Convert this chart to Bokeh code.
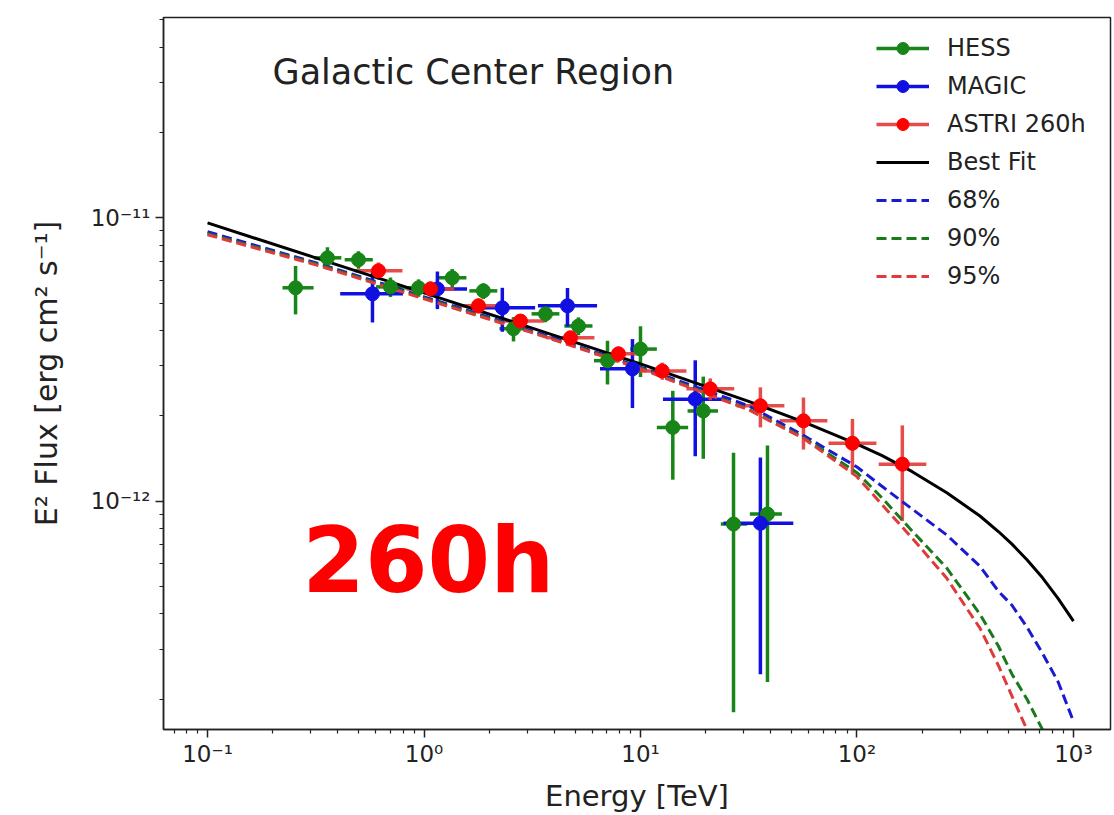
from bokeh.plotting import figure
from bokeh.models import (Range1d, FixedTicker, CustomJSTickFormatter, Legend,
                          LegendItem, Label)
from bokeh.embed import file_html
from bokeh.resources import INLINE

# ---------------- data ----------------
# HESS
hess_e = [0.255, 0.358, 0.498, 0.70, 0.944, 1.35, 1.88, 2.59, 3.64, 5.17,
          7.04, 10.0, 14.1, 19.5, 26.9, 38.6]
hess_f = [5.66e-12, 7.22e-12, 7.11e-12, 5.70e-12, 5.66e-12, 6.14e-12, 5.52e-12,
          4.06e-12, 4.58e-12, 4.15e-12, 3.13e-12, 3.44e-12, 1.82e-12, 2.08e-12,
          8.30e-13, 9.00e-13]
hess_ferr = [1.1e-12, 0.65e-12, 0.5e-12, 0.45e-12, 0.4e-12, 0.45e-12, 0.35e-12,
             0.4e-12, 0.3e-12, 0.3e-12, 0.55e-12, 0.7e-12, 0.63e-12, 0.67e-12,
             0.65e-12, 0.67e-12]
hess_elo = [0.222, 0.31, 0.43, 0.60, 0.81, 1.16, 1.62, 2.23, 3.14, 4.45,
            6.1, 8.97, 11.9, 16.5, 23.5, 32.0]
hess_ehi = [0.309, 0.415, 0.58, 0.81, 1.09, 1.57, 2.18, 3.0, 4.22, 6.0,
            8.0, 11.9, 16.6, 22.8, 31.1, 45.0]

# MAGIC
magic_e = [0.578, 1.153, 2.30, 4.60, 9.18, 17.9, 35.8]
magic_f = [5.39e-12, 5.61e-12, 4.81e-12, 4.89e-12, 2.93e-12, 2.29e-12, 8.35e-13]
magic_ferr = [1.12e-12, 0.85e-12, 0.85e-12, 0.76e-12, 0.8e-12, 0.85e-12, 0.59e-12]
magic_elo = [0.41, 1.0, 1.64, 3.36, 6.5, 12.7, 24.2]
magic_ehi = [0.80, 1.58, 3.26, 6.3, 10.6, 25.1, 50.8]

# ASTRI 260h
astri_e = [0.616, 1.072, 1.785, 2.79, 4.75, 7.91, 12.6, 21.0, 35.8, 56.6, 95.3, 162]
astri_f = [6.50e-12, 5.61e-12, 4.89e-12, 4.32e-12, 3.77e-12, 3.31e-12, 2.88e-12,
           2.49e-12, 2.17e-12, 1.92e-12, 1.60e-12, 1.35e-12]
astri_ferr = [0.45e-12, 0.35e-12, 0.3e-12, 0.25e-12, 0.22e-12, 0.2e-12, 0.2e-12,
              0.22e-12, 0.35e-12, 0.4e-12, 0.35e-12, 0.5e-12]
astri_elo = [0.478, 0.831, 1.38, 2.16, 3.68, 6.13, 9.77, 16.3, 27.8, 43.9, 73.9, 126]
astri_ehi = [0.795, 1.38, 2.30, 3.60, 6.13, 10.2, 16.3, 27.1, 46.2, 73.0, 123, 209]

# model curves
fit_e = [0.1, 0.316, 1, 3.16, 10, 31.6, 57, 100, 130, 180, 260, 370, 450, 520,
         610, 720, 850, 1000]
best_fit = [9.59e-12, 7.22e-12, 5.43e-12, 4.08e-12, 3.05e-12, 2.25e-12, 1.90e-12,
            1.59e-12, 1.45e-12, 1.27e-12, 1.07e-12, 8.86e-13, 7.81e-13, 7.05e-13,
            6.21e-13, 5.36e-13, 4.53e-13, 3.77e-13]
c68_e = [0.1, 0.316, 1, 3.16, 10, 31.6, 57, 100, 130, 180, 260, 370, 450, 520,
         610, 720, 850, 1000]
c68_f = [8.92e-12, 6.94e-12, 5.26e-12, 3.99e-12, 2.97e-12, 2.17e-12, 1.70e-12,
         1.32e-12, 1.13e-12, 9.37e-13, 7.59e-13, 5.89e-13, 4.81e-13, 4.29e-13,
         3.59e-13, 2.90e-13, 2.30e-13, 1.67e-13]
c90_e = [0.1, 0.316, 1, 3.16, 10, 31.6, 57, 100, 130, 180, 260, 370, 450, 520,
         610, 720, 800]
c90_f = [8.78e-12, 6.88e-12, 5.21e-12, 3.95e-12, 2.95e-12, 2.11e-12, 1.67e-12,
         1.26e-12, 1.03e-12, 7.84e-13, 5.80e-13, 3.99e-13, 3.08e-13, 2.45e-13,
         2.00e-13, 1.56e-13, 1.31e-13]
c95_e = [0.1, 0.316, 1, 3.16, 10, 31.6, 57, 100, 130, 180, 260, 370, 450, 520,
         610, 700]
c95_f = [8.71e-12, 6.82e-12, 5.17e-12, 3.93e-12, 2.93e-12, 2.10e-12, 1.66e-12,
         1.22e-12, 9.75e-13, 7.40e-13, 5.34e-13, 3.56e-13, 2.63e-13, 2.05e-13,
         1.56e-13, 1.16e-13]

x_ticks = [0.1, 1, 10, 100, 1000]
y_ticks = [1e-13, 1e-12, 1e-11, 1e-10]
legend_labels = ["HESS", "MAGIC", "ASTRI 260h", "Best Fit", "68%", "90%", "95%"]

# ---------------- figure ----------------
p = figure(width=1112, height=815, x_axis_type="log", y_axis_type="log",
           x_range=Range1d(0.0626, 1483), y_range=Range1d(1.563e-13, 5.09e-11),
           output_backend="svg", toolbar_location=None,
           min_border_left=163, min_border_right=2, min_border_top=17,
           min_border_bottom=86)
p.grid.visible = False
p.outline_line_color = "#222222"
p.outline_line_width = 1.5
p.background_fill_color = "white"
p.border_fill_color = "white"

minor_x = [m * 10.0 ** k for k in range(-2, 4) for m in range(2, 10)]
minor_y = [m * 10.0 ** k for k in range(-14, -9) for m in range(2, 10)]
p.xaxis.ticker = FixedTicker(ticks=x_ticks, minor_ticks=minor_x)
p.yaxis.ticker = FixedTicker(ticks=y_ticks, minor_ticks=minor_y)

fmt_code = """
const e = Math.round(Math.log10(tick));
const m = {"-":"\\u207b","0":"\\u2070","1":"\\u00b9","2":"\\u00b2","3":"\\u00b3",
           "4":"\\u2074","5":"\\u2075","6":"\\u2076","7":"\\u2077","8":"\\u2078","9":"\\u2079"};
return "10" + String(e).split("").map(c => m[c]).join("");
"""
p.xaxis.formatter = CustomJSTickFormatter(code=fmt_code)
p.yaxis.formatter = CustomJSTickFormatter(code=fmt_code)

for ax in (p.xaxis[0], p.yaxis[0]):
    ax.major_tick_out = 8
    ax.major_tick_in = 0
    ax.minor_tick_out = 4
    ax.minor_tick_in = 0
    ax.major_tick_line_width = 1.5
    ax.minor_tick_line_width = 1.2
    ax.axis_line_width = 1.5
    ax.axis_line_color = "#222222"
    ax.major_tick_line_color = "#222222"
    ax.minor_tick_line_color = "#222222"
    ax.major_label_text_font = "DejaVu Sans"
    ax.major_label_text_font_size = "23px"
    ax.major_label_text_color = "#222222"
    ax.axis_label_text_font = "DejaVu Sans"
    ax.axis_label_text_font_size = "29px"
    ax.axis_label_text_font_style = "normal"
    ax.axis_label_text_color = "#222222"

p.yaxis.axis_label_text_font_size = "30px"
p.xaxis.axis_label = "Energy [TeV]"
p.yaxis.axis_label = "E\u00b2 Flux [erg cm\u00b2 s\u207b\u00b9]"
p.xaxis.major_label_standoff = 3
p.xaxis.axis_label_standoff = 9
p.yaxis.major_label_standoff = 5
p.yaxis.axis_label_standoff = 24

GREEN = "#178517"
BLUE = "#1010e0"
RED = "#ff0000"


def errorbars(e, f, ferr, elo, ehi, color, alpha=1.0):
    ylo = [fi - di for fi, di in zip(f, ferr)]
    yhi = [fi + di for fi, di in zip(f, ferr)]
    xs = p.segment(x0=elo, y0=f, x1=ehi, y1=f, line_color=color,
                   line_width=3.5, line_alpha=alpha)
    p.segment(x0=e, y0=ylo, x1=e, y1=yhi, line_color=color,
              line_width=3.5, line_alpha=alpha)
    return xs


hess_x = errorbars(hess_e, hess_f, hess_ferr, hess_elo, hess_ehi, GREEN)
magic_x = errorbars(magic_e, magic_f, magic_ferr, magic_elo, magic_ehi, BLUE)
astri_x = errorbars(astri_e, astri_f, astri_ferr, astri_elo, astri_ehi, "#e23a3a", 0.9)

r_best = p.line(fit_e, best_fit, line_color="black", line_width=3)
r68 = p.line(c68_e, c68_f, line_color="#1a1ad0", line_width=3, line_dash="10 5")
r90 = p.line(c90_e, c90_f, line_color="#1a7a1a", line_width=3, line_dash="10 5")
r95 = p.line(c95_e, c95_f, line_color="#e03a3a", line_width=3, line_dash="10 5")

hess_m = p.scatter(hess_e, hess_f, size=14, fill_color=GREEN, line_color=GREEN)
magic_m = p.scatter(magic_e, magic_f, size=14, fill_color=BLUE, line_color=BLUE)
astri_m = p.scatter(astri_e, astri_f, size=14, fill_color=RED, line_color=RED)

legend = Legend(items=[
    LegendItem(label=legend_labels[0], renderers=[hess_x, hess_m]),
    LegendItem(label=legend_labels[1], renderers=[magic_x, magic_m]),
    LegendItem(label=legend_labels[2], renderers=[astri_x, astri_m]),
    LegendItem(label=legend_labels[3], renderers=[r_best]),
    LegendItem(label=legend_labels[4], renderers=[r68]),
    LegendItem(label=legend_labels[5], renderers=[r90]),
    LegendItem(label=legend_labels[6], renderers=[r95]),
], location=(703, 428), margin=0, padding=10, spacing=8,
    glyph_width=53, glyph_height=30, label_height=30, label_standoff=18,
    label_text_font="DejaVu Sans", label_text_font_size="24px",
    label_text_color="#222222", border_line_alpha=0, background_fill_alpha=0)
p.add_layout(legend)

p.add_layout(Label(x=0.1996, y=3.26e-11, text="Galactic Center Region",
                   text_font="DejaVu Sans", text_font_size="35px",
                   text_color="#222222", text_baseline="alphabetic"))
p.add_layout(Label(x=0.274, y=6.19e-13, text="260h", text_font="DejaVu Sans",
                   text_font_style="bold", text_font_size="90px",
                   text_color="#ff0000", text_baseline="alphabetic"))

open("out.html", "w").write(file_html(p, INLINE))
